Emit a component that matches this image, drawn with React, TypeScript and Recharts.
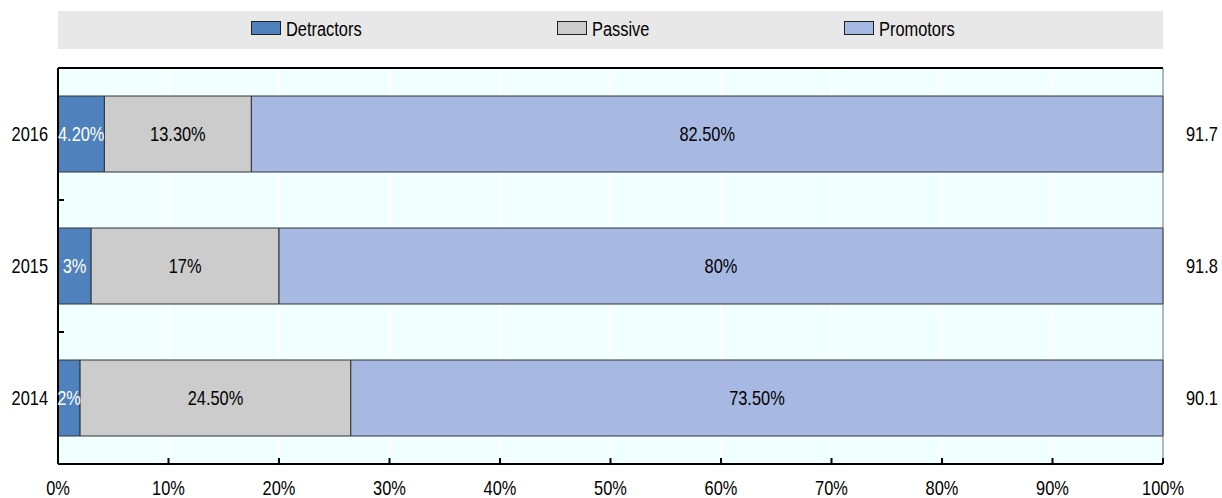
import React from 'react';
import {
  BarChart,
  Bar,
  XAxis,
  YAxis,
  CartesianGrid,
  LabelList,
  Legend,
  ReferenceLine,
} from 'recharts';

// Net promoter breakdown by year
const years = ['2016', '2015', '2014'];
const detractors = [4.2, 3, 2];
const passive = [13.3, 17, 24.5];
const promotors = [82.5, 80, 73.5];
const npsScores = ['91.7', '91.8', '90.1'];
const percentTicks = [0, 10, 20, 30, 40, 50, 60, 70, 80, 90, 100];

const series = [
  { key: 'detractors', name: 'Detractors', color: '#4F81BD', text: '#FFFFFF', legendLeft: 193 },
  { key: 'passive', name: 'Passive', color: '#CCCCCC', text: '#000000', legendLeft: 499 },
  { key: 'promotors', name: 'Promotors', color: '#A7B9E2', text: '#000000', legendLeft: 786 },
];

const data = years.map((year, i) => ({
  year,
  detractors: detractors[i],
  passive: passive[i],
  promotors: promotors[i],
  score: npsScores[i],
}));

const FONT = '"Liberation Sans", Arial, sans-serif';
const SQUEEZE = 0.82;

// Horizontally condensed text
const NText = ({ x, y, anchor = 'middle', size = 20, fill = '#000', children }: any) => (
  <text
    transform={`translate(${x},${y}) scale(${SQUEEZE},1)`}
    x={0}
    y={0}
    textAnchor={anchor}
    fontSize={size}
    fontFamily={FONT}
    fill={fill}
  >
    {children}
  </text>
);

const fmtPct = (v: any) => {
  const n = Number(v);
  return Number.isInteger(n) ? `${n}%` : `${n.toFixed(2)}%`;
};

const YearTick = (props: any) => {
  const { x, y, payload, index } = props;
  const half = payload && payload.offset ? payload.offset : 66;
  return (
    <g>
      <NText x={x - 10} y={y + 7} anchor="end">
        {payload.value}
      </NText>
      {index > 0 && (
        <line x1={x} x2={x + 6} y1={y - half} y2={y - half} stroke="#000" strokeWidth={2} />
      )}
    </g>
  );
};

const PercentTick = (props: any) => {
  const { x, y, payload } = props;
  return (
    <g>
      <line x1={x} x2={x} y1={y - 6} y2={y} stroke="#000" strokeWidth={2} />
      <NText x={x} y={y + 31} anchor="middle">
        {`${payload.value}%`}
      </NText>
    </g>
  );
};

const makeBarLabel = (fill: string) => (props: any) => {
  const vb = props.viewBox || props;
  const { x, y, width, height } = vb;
  return (
    <NText x={x + width / 2} y={y + height / 2 + 7} anchor="middle" fill={fill}>
      {fmtPct(props.value)}
    </NText>
  );
};

const ScoreLabel = (props: any) => {
  const vb = props.viewBox || props;
  const { x, y, width, height } = vb;
  return (
    <NText x={x + width + 23} y={y + height / 2 + 7} anchor="start" size={20}>
      {props.value}
    </NText>
  );
};

const LegendBox = () => (
  <div
    style={{
      position: 'relative',
      width: 1105,
      height: 38,
      background: '#E8E8E8',
      fontFamily: FONT,
      fontSize: 20,
      color: '#000',
    }}
  >
    {series.map((s) => (
      <div key={s.key} style={{ position: 'absolute', left: s.legendLeft, top: 0, height: 38 }}>
        <span
          style={{
            position: 'absolute',
            left: 0,
            top: 10,
            width: 30,
            height: 14,
            background: s.color,
            border: '1px solid #222',
            boxSizing: 'border-box',
          }}
        />
        <span
          style={{
            position: 'absolute',
            left: 35,
            top: 7,
            lineHeight: '23px',
            whiteSpace: 'nowrap',
            transform: `scaleX(${SQUEEZE})`,
            transformOrigin: 'left center',
          }}
        >
          {s.name}
        </span>
      </div>
    ))}
  </div>
);

export default function App() {
  return (
    <div style={{ position: 'absolute', left: 0, top: 0, background: '#fff' }}>
      <BarChart
        width={1222}
        height={498}
        data={data}
        layout="vertical"
        margin={{ top: 68, right: 59, left: 0, bottom: 0 }}
      >
        <CartesianGrid
          horizontal={false}
          vertical={true}
          stroke="#FFFFFF"
          strokeWidth={2}
          fill="#F0FFFF"
          fillOpacity={1}
        />
        {/* top edge of the plotting frame */}
        <CartesianGrid
          vertical={false}
          horizontal={true}
          stroke="#000000"
          strokeWidth={2}
          horizontalCoordinatesGenerator={({ offset }: any) => [offset.top]}
        />
        <ReferenceLine x={100} stroke="#6F6F6F" strokeWidth={1} ifOverflow="extendDomain" />
        <XAxis
          type="number"
          domain={[0, 100]}
          ticks={percentTicks}
          interval={0}
          height={34}
          tickSize={0}
          tickMargin={0}
          tick={<PercentTick />}
          axisLine={{ stroke: '#000', strokeWidth: 2 }}
          tickLine={false}
        />
        <YAxis
          type="category"
          dataKey="year"
          width={58}
          tickSize={0}
          tickMargin={0}
          tick={<YearTick />}
          tickLine={false}
          axisLine={{ stroke: '#000', strokeWidth: 2 }}
        />
        <Legend
          layout="horizontal"
          verticalAlign="middle"
          align="center"
          wrapperStyle={{ position: 'absolute', top: 11, left: 58, width: 1105 }}
          content={<LegendBox />}
        />
        {series.map((s) => (
          <Bar
            key={s.key}
            dataKey={s.key}
            name={s.name}
            stackId="nps"
            fill={s.color}
            stroke="#333333"
            strokeWidth={1}
            barSize={76}
            isAnimationActive={false}
          >
            <LabelList dataKey={s.key} content={makeBarLabel(s.text)} />
            {s.key === 'promotors' && <LabelList dataKey="score" content={ScoreLabel} />}
          </Bar>
        ))}
      </BarChart>
    </div>
  );
}
